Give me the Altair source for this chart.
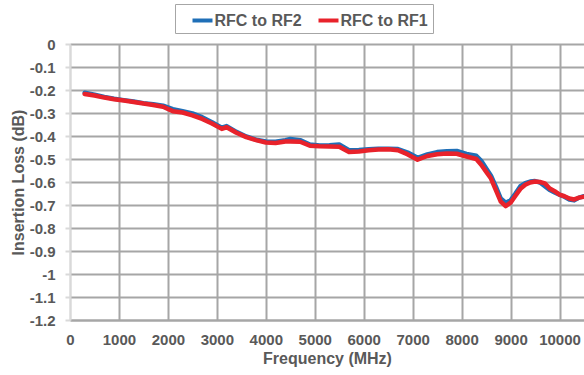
import altair as alt
import pandas as pd

# Frequency (MHz)
freq = [300, 500, 700, 900, 1100, 1300, 1500, 1700, 1900, 2100, 2300, 2500,
        2700, 2900, 3100, 3200, 3400, 3600, 3800, 4000, 4200, 4400, 4500, 4700,
        4900, 5100, 5300, 5500, 5700, 5900, 6100, 6300, 6500, 6700, 6900, 7100,
        7300, 7500, 7700, 7900, 8100, 8300, 8400, 8500, 8600, 8700, 8800, 8900,
        9000, 9100, 9200, 9300, 9400, 9500, 9600, 9700, 9800, 9900, 10000,
        10100, 10200, 10300, 10400, 10500]

# Insertion loss (dB), RFC to RF2 (blue)
rf2 = [-0.212, -0.220, -0.230, -0.238, -0.244, -0.250, -0.257, -0.262, -0.268,
       -0.283, -0.292, -0.302, -0.318, -0.340, -0.364, -0.357, -0.382, -0.402,
       -0.416, -0.424, -0.425, -0.418, -0.413, -0.418, -0.437, -0.441, -0.440,
       -0.437, -0.462, -0.461, -0.458, -0.455, -0.455, -0.457, -0.472, -0.495,
       -0.480, -0.470, -0.466, -0.465, -0.478, -0.486, -0.508, -0.540, -0.573,
       -0.620, -0.672, -0.690, -0.680, -0.650, -0.618, -0.605, -0.598, -0.596,
       -0.602, -0.618, -0.635, -0.645, -0.655, -0.664, -0.676, -0.680, -0.668,
       -0.662]

# Insertion loss (dB), RFC to RF1 (red)
rf1 = [-0.217, -0.224, -0.233, -0.240, -0.246, -0.252, -0.259, -0.265, -0.273,
       -0.292, -0.298, -0.310, -0.326, -0.346, -0.369, -0.362, -0.386, -0.405,
       -0.418, -0.428, -0.430, -0.424, -0.424, -0.425, -0.442, -0.445, -0.446,
       -0.447, -0.470, -0.467, -0.462, -0.459, -0.458, -0.462, -0.480, -0.503,
       -0.487, -0.479, -0.476, -0.477, -0.489, -0.500, -0.525, -0.555, -0.585,
       -0.635, -0.685, -0.705, -0.690, -0.660, -0.630, -0.612, -0.602, -0.598,
       -0.600, -0.606, -0.628, -0.640, -0.655, -0.662, -0.672, -0.676, -0.668,
       -0.664]

series_names = ["RFC to RF2", "RFC to RF1"]
series_colors = ["#1f6fb7", "#e8222b"]
x_ticks = [0, 1000, 2000, 3000, 4000, 5000, 6000, 7000, 8000, 9000, 10000]
y_ticks = [0, -0.1, -0.2, -0.3, -0.4, -0.5, -0.6, -0.7, -0.8, -0.9, -1, -1.1, -1.2]

df2 = pd.DataFrame({"freq": freq, "loss": rf2, "series": series_names[0]})
df1 = pd.DataFrame({"freq": freq, "loss": rf1, "series": series_names[1]})

FONT = "Liberation Sans"
TXT = "#595959"
GRID = "#a6a6a6"

x_enc = alt.X(
    "freq:Q",
    scale=alt.Scale(domain=[0, 10500], nice=False, zero=False),
    axis=alt.Axis(
        title="Frequency (MHz)",
        values=x_ticks,
        labelExpr="'' + datum.value",
        labelFlush=False,
        grid=True,
        gridColor=alt.condition("datum.value == 0", alt.value("#d9d9d9"), alt.value(GRID)),
        gridWidth=2,
        ticks=False,
        domainColor=GRID,
        domainWidth=2,
        labelPadding=12,
        labelFontSize=15,
        titleFontSize=16,
        titlePadding=3,
    ),
)
y_enc = alt.Y(
    "loss:Q",
    scale=alt.Scale(domain=[-1.2, 0], nice=False, zero=False),
    axis=alt.Axis(
        title="Insertion Loss (dB)",
        values=y_ticks,
        labelExpr="'' + datum.value",
        labelFlush=False,
        grid=True,
        gridColor=GRID,
        gridWidth=2,
        ticks=True,
        tickSize=5,
        tickColor="#d9d9d9",
        tickWidth=2,
        domainColor="#d9d9d9",
        domainWidth=2,
        labelPadding=10,
        labelFontSize=15,
        titleFontSize=16,
        titlePadding=3,
    ),
)
color_enc = alt.Color(
    "series:N",
    scale=alt.Scale(domain=series_names, range=series_colors),
    legend=alt.Legend(
        orient="none",
        legendX=105,
        legendY=-40,
        direction="horizontal",
        title=None,
        strokeColor=GRID,
        padding=4.5,
        symbolType="stroke",
        symbolSize=400,
        symbolStrokeWidth=4,
        symbolOffset=11,
        labelOffset=0,
        columnPadding=3,
        labelFontSize=16,
        labelFontWeight="bold",
        labelColor=TXT,
        labelFont=FONT,
        labelExpr="datum.label == 'RFC to RF1' ? datum.label + '\u00a0\u00a0' : datum.label",
    ),
)

blue = alt.Chart(df2).mark_line(strokeWidth=4.5, strokeJoin="round", strokeCap="round").encode(
    x=x_enc, y=y_enc, color=color_enc
)
red = alt.Chart(df1).mark_line(strokeWidth=4.5, strokeJoin="round", strokeCap="round").encode(
    x=x_enc, y=y_enc, color=color_enc
)

chart = (
    alt.layer(blue, red)
    .properties(
        width=514,
        height=276,
        autosize=alt.AutoSizeParams(type="none"),
        padding={"left": 70, "top": 44, "right": 0, "bottom": 55},
        background="white",
    )
    .configure_view(stroke=None)
    .configure_axis(
        labelFont=FONT,
        titleFont=FONT,
        labelFontWeight="bold",
        titleFontWeight="bold",
        labelColor=TXT,
        titleColor=TXT,
    )
)

chart.save("out.html", embed_options={"renderer": "svg", "actions": False})
